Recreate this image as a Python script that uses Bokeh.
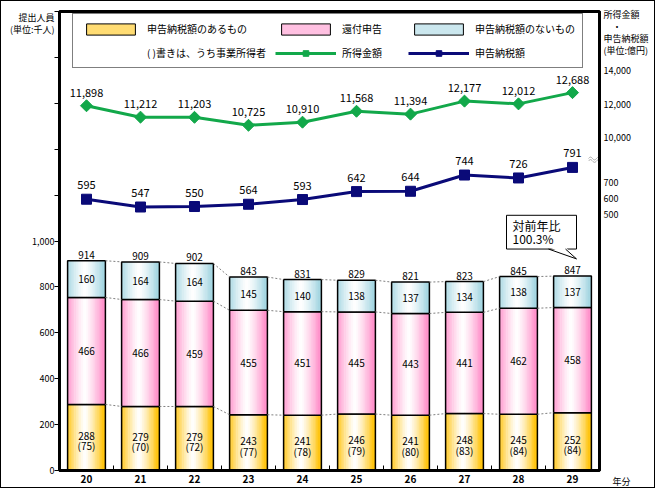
import numpy as np
from bokeh.plotting import figure
from bokeh.layouts import column
from bokeh.models import (Range1d, LinearAxis, FixedTicker, Label, Legend, LegendItem,
                          PolyAnnotation, BoxAnnotation, Arrow)
from bokeh.core.properties import value
from bokeh.embed import file_html
from bokeh.resources import INLINE

# ---------------- data ----------------
years = ["20", "21", "22", "23", "24", "25", "26", "27", "28", "29"]
with_tax = [288, 279, 279, 243, 241, 246, 241, 248, 245, 252]      # 申告納税額のあるもの
business = [75, 70, 72, 77, 78, 79, 80, 83, 84, 84]                # うち事業所得者
refund = [466, 466, 459, 455, 451, 445, 443, 441, 462, 458]        # 還付申告
no_tax = [160, 164, 164, 145, 140, 138, 137, 134, 138, 137]        # 申告納税額のないもの
totals = [914, 909, 902, 843, 831, 829, 821, 823, 845, 847]
income = [11898, 11212, 11203, 10725, 10910, 11568, 11394, 12177, 12012, 12688]  # 所得金額
tax = [595, 547, 550, 564, 593, 642, 644, 744, 726, 791]           # 申告納税額
left_ticks = list(range(0, 2001, 200))
left_labeled = list(range(0, 1001, 200))
income_ticks = [10000, 12000, 14000]
tax_ticks = [500, 600, 700]
left_title = "提出人員\n(単位:千人)"
right_title = "所得金額\n　・\n申告納税額\n(単位:億円)"
x_title = "年分"
yoy_text = "対前年比\n100.3%"

FONT = "Noto Sans CJK JP"
ORANGE = (255, 192, 0)
PINK = (255, 140, 200)
CYAN = (160, 212, 224)
GREEN = "#12A84A"
NAVY = "#0A0A78"

BAR_RANGE = (0, 2000)
INCOME_RANGE = (-10050, 17570)
TAX_RANGE = (-1077, 1752)

W, H = 653, 486
p = figure(width=W, height=H, x_range=Range1d(-0.5, len(years) - 0.5),
           y_range=Range1d(*BAR_RANGE), output_backend="svg", toolbar_location=None,
           min_border_left=58, min_border_right=55, min_border_top=10, min_border_bottom=17)
p.extra_y_ranges = {"income": Range1d(*INCOME_RANGE), "tax": Range1d(*TAX_RANGE)}
p.grid.visible = False
p.outline_line_color = "black"
p.outline_line_width = 3
p.background_fill_color = "white"
p.border_fill_color = "white"

idx = list(range(len(years)))

# ---------------- axes ----------------
xa = p.xaxis[0]
xa.ticker = FixedTicker(ticks=idx, minor_ticks=[i + 0.5 for i in idx[:-1]])
xa.major_label_overrides = {i: years[i] for i in idx}
xa.major_tick_line_color = None
xa.major_tick_out = 0
xa.minor_tick_in = 5
xa.minor_tick_out = 0
xa.minor_tick_line_color = "black"
xa.axis_line_width = 3
xa.major_label_standoff = 4
xa.major_label_text_font = FONT
xa.major_label_text_font_size = "10px"
xa.major_label_text_font_style = "bold"
xa.major_label_text_color = "black"

# left axis: visible tick marks via minor ticks, labels via major ticks
left_title_pos = round(BAR_RANGE[1] * 0.974, 3)
ya = p.yaxis[0]
ya.ticker = FixedTicker(ticks=left_labeled + [left_title_pos], minor_ticks=left_ticks)
ya.major_label_overrides = {**{t: f"{t:,}" for t in left_labeled}, left_title_pos: left_title}
ya.major_tick_line_color = None
ya.major_tick_in = 0
ya.major_tick_out = 0
ya.minor_tick_in = 0
ya.minor_tick_out = 5
ya.minor_tick_line_color = "black"
ya.axis_line_width = 3
ya.major_label_standoff = 0
ya.major_label_text_font = FONT
ya.major_label_text_font_size = "9px"
ya.major_label_text_color = "black"
ya.major_label_text_line_height = 0.93


def to_bar(v, rng):
    lo, hi = rng
    return round(BAR_RANGE[0] + (v - lo) / (hi - lo) * (BAR_RANGE[1] - BAR_RANGE[0]), 3)


right_title_pos = round(BAR_RANGE[1] * 0.954, 3)
right_pos = ([to_bar(v, INCOME_RANGE) for v in income_ticks] + [to_bar(v, TAX_RANGE) for v in tax_ticks]
             + [right_title_pos, BAR_RANGE[0]])
right_lab = ([f"{v:,}" for v in income_ticks] + [f"{v:,}" for v in tax_ticks]
             + [right_title, "　\n　\n　\n　\n　" + x_title])
ra = LinearAxis(ticker=FixedTicker(ticks=right_pos))
ra.major_label_overrides = dict(zip(right_pos, right_lab))
ra.major_tick_line_color = None
ra.major_tick_in = 0
ra.major_tick_out = 0
ra.minor_tick_line_color = None
ra.axis_line_width = 3
ra.major_label_standoff = 4
ra.major_label_text_font = FONT
ra.major_label_text_font_size = "9px"
ra.major_label_text_color = "black"
ra.major_label_text_line_height = 0.93
p.add_layout(ra, "right")

# ---------------- bars with horizontal gradient ----------------
N = 22
BW = 0.70


def blend(rgb, t):
    return "#%02x%02x%02x" % tuple(int(round(255 + (c - 255) * t)) for c in rgb)


def gradient_bars(bottoms, tops, rgb):
    xs, bs, ts, cs = [], [], [], []
    for i in idx:
        for k in range(N):
            u = (k + 0.5) / N * 2 - 1
            t = min(1.0, abs(u + 0.08)) ** 1.3
            xs.append(i - BW / 2 + (k + 0.5) * BW / N)
            bs.append(bottoms[i])
            ts.append(tops[i])
            cs.append(blend(rgb, t))
    p.vbar(x=xs, bottom=bs, top=ts, width=BW / N * 1.25, fill_color=cs, line_color=None)
    p.vbar(x=idx, bottom=bottoms, top=tops, width=BW, fill_color=None,
           line_color="black", line_width=1.5)


lvl0 = [0] * len(years)
lvl1 = with_tax
lvl2 = [a + b for a, b in zip(with_tax, refund)]
lvl3 = [a + b + c for a, b, c in zip(with_tax, refund, no_tax)]
gradient_bars(lvl0, lvl1, ORANGE)
gradient_bars(lvl1, lvl2, PINK)
gradient_bars(lvl2, lvl3, CYAN)

# dotted connectors
for lv in (lvl1, lvl2, lvl3):
    p.segment(x0=[i + BW / 2 for i in idx[:-1]], y0=lv[:-1],
              x1=[i + 1 - BW / 2 for i in idx[:-1]], y1=lv[1:],
              line_color="#808080", line_dash="2 2", line_width=1)

# bar labels
tf = value(FONT)
p.text(x=idx, y=[v / 2 for v in with_tax],
       text=[f"{a}\n({b})" for a, b in zip(with_tax, business)],
       text_font=tf, text_font_size="10px", text_align="center", text_baseline="middle",
       y_offset=3, text_color="black", text_line_height=0.72)
p.text(x=idx, y=[a + b / 2 for a, b in zip(lvl1, refund)], text=[str(v) for v in refund],
       text_font=tf, text_font_size="10px", text_align="center", text_baseline="middle",
       text_color="black")
p.text(x=idx, y=[a + b / 2 for a, b in zip(lvl2, no_tax)], text=[str(v) for v in no_tax],
       text_font=tf, text_font_size="10px", text_align="center", text_baseline="middle",
       text_color="black")
p.text(x=idx, y=totals, text=[str(v) for v in totals],
       text_font=tf, text_font_size="10px", text_align="center", text_baseline="bottom",
       y_offset=-2, text_color="black")

# ---------------- lines ----------------
gl = p.line(idx, income, y_range_name="income", line_color=GREEN, line_width=3)
gm = p.scatter(idx, income, y_range_name="income", marker="square", angle=np.pi / 4,
               size=8.5, fill_color=GREEN, line_color=GREEN)
nl = p.line(idx, tax, y_range_name="tax", line_color=NAVY, line_width=3)
nm = p.scatter(idx, tax, y_range_name="tax", marker="square", size=10,
               fill_color=NAVY, line_color=NAVY)
p.text(x=idx, y=income, y_range_name="income", text=[f"{v:,}" for v in income],
       text_font=tf, text_font_size="11px", text_align="center", text_baseline="bottom",
       y_offset=-9, text_color="black")
p.text(x=idx, y=tax, y_range_name="tax", text=[f"{v:,}" for v in tax],
       text_font=tf, text_font_size="11px", text_align="center", text_baseline="bottom",
       y_offset=-10, text_color="black")

# ---------------- legend (swatch renderers sit outside the visible x range) ----------------
SW = 0.55
off = [-5]
r_or = p.vbar(x=off, top=[0], width=0.5, fill_color=blend(ORANGE, SW), line_color="black")
r_pk = p.vbar(x=off, top=[0], width=0.5, fill_color=blend(PINK, SW), line_color="black")
r_cy = p.vbar(x=off, top=[0], width=0.5, fill_color=blend(CYAN, SW), line_color="black")
r_no = p.vbar(x=off, top=[0], width=0.5, fill_alpha=0, line_alpha=0)
legend = Legend(items=[
    LegendItem(label="申告納税額のあるもの", renderers=[r_or]),
    LegendItem(label="( )書きは、うち事業所得者", renderers=[r_no]),
    LegendItem(label="還付申告", renderers=[r_pk]),
    LegendItem(label="所得金額", renderers=[gl, gm]),
    LegendItem(label="申告納税額のないもの", renderers=[r_cy]),
    LegendItem(label="申告納税額", renderers=[nl, nm]),
], ncols=3, location=(13, 402), margin=0, padding=7, spacing=9,
    glyph_width=61, glyph_height=14, label_width=57, label_height=14, label_standoff=6,
    label_text_font=FONT, label_text_font_size="10px", label_text_color="black",
    border_line_color="black", border_line_width=1.5, background_fill_alpha=1)
p.add_layout(legend, "center")

# ---------------- callout ----------------
last = len(years) - 1
px_x = 1 / 54.0       # data units per pixel (x)
px_y = 1 / 0.2295     # data units per pixel (y)
box_top = totals[last] + 265
box_bot = totals[last] + 118
box_l = last - 66 * px_x
box_r = last + 4 * px_x
p.add_layout(BoxAnnotation(left=box_l, right=box_r, bottom=box_bot, top=box_top,
                           fill_color="white", fill_alpha=1, line_color="black",
                           line_width=1, line_alpha=1))
tip = (last + 4 * px_x, totals[last] + 75)
base = (last - 24 * px_x, last - 7 * px_x)
p.add_layout(PolyAnnotation(xs=[base[0], base[1], tip[0]],
                            ys=[box_bot + 2 * px_y, box_bot + 2 * px_y, tip[1]],
                            fill_color="white", fill_alpha=1, line_color=None))
for bx in base:
    p.add_layout(Arrow(end=None, x_start=bx, y_start=box_bot, x_end=tip[0], y_end=tip[1],
                       line_color="black", line_width=1))
p.add_layout(Label(x=box_l, y=box_top, x_offset=6, y_offset=-2, text=yoy_text, text_font=FONT,
                   text_font_size="12px", text_align="left", text_baseline="top",
                   text_line_height=0.75, text_color="black"))

# axis break mark (inner part, left of the right axis)
brk = (to_bar(income_ticks[0], INCOME_RANGE) + to_bar(tax_ticks[-1], TAX_RANGE)) / 2
wx = np.linspace(len(years) - 0.5 - 11 * px_x, len(years) - 0.5, 20)
wave = 1.4 * px_y * np.sin((wx - wx[0]) / (8 * px_x) * 2 * np.pi)
gap = 2.5 * px_y
p.patch(list(wx) + list(wx[::-1]),
        list(brk + gap / 2 + wave) + list((brk - gap / 2 + wave)[::-1]),
        fill_color="white", line_color=None)
p.line(wx, brk + gap / 2 + wave, line_color="#999999", line_width=0.8)
p.line(wx, brk - gap / 2 + wave, line_color="#999999", line_width=0.8)

root = column(p, styles={"border": "1px solid black"})
open("out.html", "w").write(file_html(root, INLINE))
